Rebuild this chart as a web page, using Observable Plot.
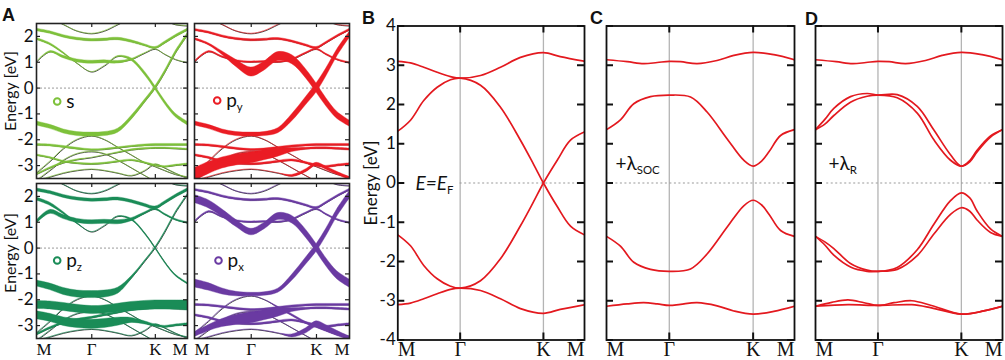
<!DOCTYPE html>
<html><head><meta charset="utf-8">
<script src="https://cdn.jsdelivr.net/npm/d3@7"></script>
<script src="https://cdn.jsdelivr.net/npm/@observablehq/plot@0.6"></script>
<style>
html,body{margin:0;padding:0;background:#fff;}
#fig{position:relative;width:1005px;height:360px;overflow:hidden;}
.panel{position:absolute;}
.letter{position:absolute;font:bold 18px "Liberation Sans",Arial,sans-serif;line-height:18px;color:#111;}
</style></head><body><div id="fig"></div>
<script>
// ---------- shared labels / ticks ----------
const pathLabels = ["M", "Γ", "K", "M"];
const kTicksA = [0, 0.366, 0.787, 1];
const kTicksBCD = [0, 0.334, 0.78, 1];
const yTicksA = [-3, -2, -1, 0, 1, 2];
const yTicksBCD = [-4, -3, -2, -1, 0, 1, 2, 3, 4];
const orbitalNames = ["s", "p_y", "p_z", "p_x"];

// ---------- panel A: DFT bands (energy at each k of the grid) ----------
const kGridA = [0, 0.09, 0.18, 0.27, 0.366, 0.45, 0.54, 0.63, 0.72, 0.787, 0.85, 0.92, 1];
const bandU1 = [1.9, 1.7, 1.35, 0.95, 0.62, 0.85, 1.22, 1.1, 0.55, 0, -0.55, -1.05, -1.37];
const bandU2 = [1.0, 1.4, 1.2, 1.05, 1.0, 1.02, 1.0, 1.1, 1.35, 1.5, 1.3, 1.1, 0.97];
const bandU3 = [2.25, 2.15, 2.0, 1.9, 1.85, 1.87, 1.9, 1.8, 1.65, 1.55, 1.75, 2.0, 2.25];
const bandU4 = [2.9, 2.7, 2.45, 2.2, 2.1, 2.2, 2.45, 2.7, 2.8, 2.75, 2.6, 2.45, 2.4];
const bandU5 = [-1.37, -1.5, -1.68, -1.78, -1.8, -1.78, -1.65, -1.15, -0.5, 0, 0.6, 1.35, 2.05];
const bandL1 = [-3.3, -2.85, -2.35, -2.0, -1.86, -2.0, -2.3, -2.6, -2.9, -3.05, -3.2, -3.35, -3.45];
const bandL2 = [-2.2, -2.22, -2.28, -2.35, -2.4, -2.38, -2.32, -2.26, -2.22, -2.2, -2.2, -2.2, -2.2];
const bandL3 = [-3.35, -3.1, -2.9, -2.78, -2.7, -2.6, -2.5, -2.4, -2.35, -2.33, -2.33, -2.35, -2.38];
const bandL4 = [-2.6, -2.7, -2.85, -2.92, -2.95, -2.92, -2.85, -2.8, -2.9, -3.0, -3.05, -3.0, -2.95];
const bandL5 = [-3.6, -3.2, -2.8, -2.55, -2.47, -2.55, -2.8, -3.1, -3.4, -3.6, -3.6, -3.6, -3.6];
const bandL6 = [-3.6, -3.45, -3.3, -3.2, -3.15, -3.2, -3.3, -3.4, -3.2, -2.95, -3.1, -3.3, -3.5];
const bandsA = [bandU1, bandU2, bandU3, bandU4, bandU5, bandL1, bandL2, bandL3, bandL4, bandL5, bandL6];

// orbital weights (fat-band thickness) per band, same order as bandsA
const weightS = [
  [2,2,1.5,0.5,0,0,1,2.5,3.5,3.5,3.5,3.5,3.5],
  [0,1.5,2.5,3,3,3,2.5,1.5,0.5,0,0,0,0],
  [2.5,2.5,2.5,2.5,2.5,2.5,2.5,2.5,2,2,2.5,2.5,2.5],
  [0,0,0,0,0,0,0,0,0,0,0,0,0],
  [4,4,4,4,4,4,4,4,3.5,3.5,3.5,3.5,3.5],
  [0,0,0,0,0,0,0,0,0,0,0,0,0],
  [2,2,2,2,1.5,1.5,1.5,1.5,2,2,2,2,2],
  [1.5,1.5,1.5,1,0,0,1,1.5,1.5,1.5,1.5,1.5,1.5],
  [1.5,1.5,1.5,1.5,1.5,1.5,1.5,1.5,1.5,1.5,1.5,1.5,1.5],
  [0,0,0,0,0,0,0,0,0,0,0,0,0],
  [0,0,0,0,0,0,0,0,0,0,0,0,0]
];
const weightPy = [
  [2,2,3.5,7,9,9,9,9,9,9,8,7,6],
  [1.5,1.5,1.5,1.5,1.5,1.5,1.5,1.5,1.5,1.5,1.5,1.5,1.5],
  [2,2,2,2,2,2,2,2,2,2,2,2,2],
  [0,0,0,0,0,0,0,0,0,0,0,0,0],
  [4,4,4,4,4,4,5,7,8,9,8,7,6],
  [0,0,0,0,0,0,0,0,0,0,0,0,0],
  [2,2,2,2,2,2,2,2,2,2,2,2,2],
  [13,12,11,11,11,10,8,4,2,2,2,2,2],
  [2,2,2,2,2,2,2,2,2,2,2,2,2],
  [0,0,0,0,0,0,0,0,0,0,0,0,0],
  [0,0,0,0,0,0,0,2,3,3,3,3,3]
];
const weightPz = [
  [3,3,2,1,0,0,0.5,1.5,1.5,1.5,1.5,1.5,1.5],
  [3,4,4,4,4,4,4,3,2,1.5,1.5,1.5,1.5],
  [3,3,3,3,3,3,3,3,3,3,3,3,3],
  [0,0,0,0,0,0,0,0,0,0,0,0,0],
  [6,6.5,7,7,7,7,6,3,1.5,1.5,1.5,1.5,1.5],
  [0,0,0,0,0,0,0,0,0,0,0,0,0],
  [8,8,8,8,8,8,8.5,9,9,9,9,9,9],
  [2,2,2,2,2,2,2,2,2,2,2,2,2],
  [8,8,8.5,9,9,9,8,5,3,2,2,2,2],
  [0,0,0,0,0,0,0,0,0,0,0,0,0],
  [0,0,0,0,0,0,0,0,0,0,0,0,0]
];
const weightPx = [
  [8,8,7.5,7,6.5,6.5,7,7.5,8,8,8,8,8],
  [1.5,1.5,1.5,1.5,1.5,1.5,1.5,1.5,1.5,1.5,1.5,1.5,1.5],
  [2,2,2,2,2,2,2,2,2,2,2,2,2],
  [0,0,0,0,0,0,0,0,0,0,0,0,0],
  [8,7.5,6,4.5,3.5,3.5,4,6,7,7.5,7.5,7.5,7.5],
  [0,0,0,0,0,0,1.5,2,2,2,2,2,2],
  [2,2,2,2,2,2,2,2,2,2,2,2,2],
  [5,6,8,10,11,10,8,4,2,2,2,2,2],
  [2,2,2,2,2,2,2,2,2,2,2,2,2],
  [0,0,0,0,0,0,0,0,0,0,0,0,0],
  [0,0,0,0,0,0,0,3,5,6,6,5,4]
];

// ---------- panel B: tight-binding bands [k, E] ----------
const bandB1 = [[0,3.1],[0.068,3.06],[0.139,2.95],[0.211,2.82],[0.282,2.71],[0.334,2.67],[0.443,2.74],[0.55,2.95],[0.657,3.2],[0.78,3.32],[0.87,3.22],[1,3.1]];
const bandB2 = [[0,1.32],[0.068,1.6],[0.139,2.1],[0.211,2.44],[0.282,2.63],[0.334,2.67],[0.443,2.49],[0.55,1.93],[0.657,1.09],[0.728,0.47],[0.78,0],[0.854,-0.6],[0.925,-1.1],[1,-1.32]];
const bandB3 = [[0,-1.32],[0.068,-1.6],[0.139,-2.1],[0.211,-2.44],[0.282,-2.63],[0.334,-2.68],[0.443,-2.49],[0.55,-1.93],[0.657,-1.09],[0.728,-0.47],[0.78,0],[0.854,0.58],[0.925,1.09],[1,1.3]];
const bandB4 = [[0,-3.1],[0.068,-3.06],[0.139,-2.95],[0.211,-2.82],[0.282,-2.71],[0.334,-2.68],[0.443,-2.74],[0.55,-2.95],[0.657,-3.2],[0.78,-3.32],[0.87,-3.22],[1,-3.1]];

// ---------- panel C: + SOC ----------
const bandC1 = [[0,3.14],[0.11,3.09],[0.198,3.04],[0.27,3.07],[0.334,3.1],[0.394,3.09],[0.482,3.04],[0.588,3.12],[0.677,3.25],[0.78,3.33],[0.89,3.27],[1,3.14]];
const bandC2 = [[0,1.36],[0.074,1.61],[0.145,2.02],[0.234,2.2],[0.334,2.24],[0.447,2.19],[0.535,1.81],[0.641,1.13],[0.73,0.58],[0.78,0.43],[0.825,0.56],[0.865,0.8],[0.926,1.21],[1,1.36]];
const bandC3 = [[0,-1.36],[0.074,-1.61],[0.145,-2.02],[0.234,-2.2],[0.334,-2.25],[0.447,-2.19],[0.535,-1.81],[0.641,-1.13],[0.73,-0.58],[0.78,-0.44],[0.825,-0.56],[0.865,-0.8],[0.926,-1.21],[1,-1.36]];
const bandC4 = [[0,-3.14],[0.11,-3.08],[0.198,-3.05],[0.27,-3.08],[0.334,-3.12],[0.394,-3.09],[0.482,-3.05],[0.588,-3.13],[0.677,-3.26],[0.78,-3.34],[0.89,-3.27],[1,-3.14]];

// ---------- panel D: + Rashba ----------
const bandD1 = [[0,3.14],[0.11,3.09],[0.198,3.04],[0.27,3.07],[0.334,3.1],[0.394,3.09],[0.482,3.04],[0.588,3.12],[0.677,3.25],[0.78,3.33],[0.89,3.27],[1,3.14]];
const bandD2a = [[0,1.36],[0.05,1.62],[0.098,1.9],[0.187,2.2],[0.276,2.28],[0.334,2.24],[0.437,2.25],[0.544,1.95],[0.633,1.35],[0.722,0.72],[0.78,0.43],[0.825,0.57],[0.865,0.84],[0.936,1.2],[1,1.36]];
const bandD2b = [[0,1.36],[0.05,1.5],[0.098,1.72],[0.187,2.06],[0.276,2.21],[0.334,2.24],[0.437,2.17],[0.544,1.78],[0.633,1.1],[0.722,0.58],[0.78,0.43],[0.825,0.54],[0.865,0.8],[0.936,1.17],[1,1.36]];
const bandD3a = [[0,-1.36],[0.05,-1.5],[0.098,-1.67],[0.187,-2.05],[0.276,-2.22],[0.334,-2.25],[0.437,-2.15],[0.544,-1.7],[0.633,-1.05],[0.722,-0.45],[0.78,-0.25],[0.825,-0.38],[0.865,-0.72],[0.936,-1.17],[1,-1.36]];
const bandD3b = [[0,-1.36],[0.05,-1.58],[0.098,-1.84],[0.187,-2.14],[0.276,-2.25],[0.334,-2.25],[0.437,-2.2],[0.544,-1.85],[0.633,-1.3],[0.722,-0.8],[0.78,-0.63],[0.825,-0.72],[0.865,-0.95],[0.936,-1.26],[1,-1.36]];
const bandD4a = [[0,-3.14],[0.087,-3.04],[0.174,-2.98],[0.26,-3.05],[0.334,-3.12],[0.42,-3.05],[0.515,-3.0],[0.62,-3.12],[0.78,-3.34],[0.9,-3.26],[1,-3.14]];
const bandD4b = [[0,-3.14],[0.174,-3.1],[0.334,-3.12],[0.515,-3.1],[0.62,-3.18],[0.78,-3.34],[0.9,-3.26],[1,-3.14]];

// ---------- rendering ----------
const fig = document.getElementById("fig");
const SVGNS = "http://www.w3.org/2000/svg";
const FONT = "Lato, 'Open Sans', sans-serif";
const SERIF = "'Liberation Serif', 'DejaVu Serif', serif";

function subscripts(svg) {
  svg.querySelectorAll("text").forEach(t => {
    const s = t.textContent;
    const i = s.indexOf("_");
    if (i < 0) return;
    t.textContent = s.slice(0, i);
    const ts = document.createElementNS(SVGNS, "tspan");
    ts.setAttribute("font-size", "0.6em");
    ts.setAttribute("dy", "0.35em");
    ts.setAttribute("font-style", "normal");
    ts.textContent = s.slice(i + 1);
    t.appendChild(ts);
  });
}
function place(el, left, top, w, h) {
  const d = document.createElement("div");
  d.className = "panel";
  Object.assign(d.style, {left: left + "px", top: top + "px", width: w + "px", height: h + "px"});
  subscripts(el);
  d.appendChild(el);
  fig.appendChild(d);
}
function xLabelMarks(kTicks, size, dy) {
  const rows = pathLabels.map((name, i) => ({name, k: kTicks[i], i}));
  const base = {x: "k", text: "name", frameAnchor: "bottom", lineAnchor: "top", dy, fontFamily: SERIF, fontSize: size, fill: "#111"};
  return [
    Plot.text(rows.filter(d => d.i === 0), {...base, textAnchor: "start"}),
    Plot.text(rows.filter(d => d.i === 1 || d.i === 2), {...base, textAnchor: "middle"}),
    Plot.text(rows.filter(d => d.i === 3), {...base, textAnchor: "end"})
  ];
}

function fatPanel(o) {
  const fw = o.width - o.ml - o.mr, fh = o.height - o.mt - o.mb;
  const pxPerE = fh / 6;
  const lineRows = bandsA.flatMap((es, b) => es.map((e, i) => ({band: b, k: kGridA[i], e})));
  const fatRows = bandsA.flatMap((es, b) => es.map((e, i) => ({band: b, k: kGridA[i], e, w: o.weights[b][i]})));
  const marks = [
    Plot.ruleY([0], {stroke: "#999", strokeDasharray: "2,2", strokeWidth: 1}),
    Plot.line(lineRows, {x: "k", y: "e", z: "band", stroke: "#333", strokeWidth: 0.9, curve: "catmull-rom", clip: true}),
    Plot.areaY(fatRows, {x: "k", y1: d => d.e - d.w / 2 / pxPerE, y2: d => d.e + d.w / 2 / pxPerE, z: "band", fill: o.color, stroke: o.color, strokeWidth: 0.4, curve: "catmull-rom", clip: true}),
    Plot.tickY(yTicksA, {y: d => d, insetRight: fw - 4, stroke: "#222", strokeWidth: 1.2}),
    Plot.tickY(yTicksA, {y: d => d, insetLeft: fw - 4, stroke: "#222", strokeWidth: 1.2}),
    Plot.tickX(kTicksA.slice(1, 3), {x: d => d, insetBottom: fh - 4, stroke: "#222", strokeWidth: 1.2}),
    Plot.tickX(kTicksA.slice(1, 3), {x: d => d, insetTop: fh - 4, stroke: "#222", strokeWidth: 1.2}),
    Plot.dot([0], {frameAnchor: "top-left", dx: o.legDx, dy: o.legDy, r: 3.3, stroke: o.color, strokeWidth: 2, fill: "white"}),
    Plot.text([o.name], {text: d => d, frameAnchor: "top-left", dx: o.legDx + 9, dy: o.legDy, textAnchor: "start", lineAnchor: "middle", fontSize: 19, fill: "#111"}),
    Plot.frame({stroke: "#222", strokeWidth: 1.6})
  ];
  if (o.showY) {
    marks.push(Plot.axisY(yTicksA, {tickSize: 0, tickPadding: 3, tickFormat: d => String(d), fontSize: 17, label: null}));
    marks.push(Plot.text(["Energy [eV]"], {text: d => d, frameAnchor: "left", textAnchor: "middle", lineAnchor: "middle", dx: -25.5, dy: o.labelDy, rotate: -90, fontSize: 16, fill: "#111"}));
  }
  if (o.showX) marks.push(...xLabelMarks(kTicksA, 17, 4));
  const svg = Plot.plot({
    width: o.width, height: o.height,
    marginLeft: o.ml, marginRight: o.mr, marginTop: o.mt, marginBottom: o.mb,
    x: {domain: [0, 1], axis: null},
    y: {domain: [-3.5, 2.5], axis: null},
    style: {background: "transparent", overflow: "visible", fontFamily: FONT, fontSize: "17px", color: "#111"},
    marks
  });
  place(svg, o.left, o.top, o.width, o.height);
}

const fatColors = ["#7dc13a", "#ea1c24", "#1a8c57", "#6a3aa2"];
const fatWeights = [weightS, weightPy, weightPz, weightPx];
fatPanel({left: 0, top: 0, width: 190, height: 180, ml: 36, mr: 3, mt: 23, mb: 2, weights: fatWeights[0], color: fatColors[0], name: orbitalNames[0], legDx: 20.7, legDy: 78, showY: true, labelDy: -10, showX: false});
fatPanel({left: 190, top: 0, width: 160, height: 180, ml: 4, mr: 1, mt: 23, mb: 2, weights: fatWeights[1], color: fatColors[1], name: orbitalNames[1], legDx: 22.7, legDy: 77, showY: false, showX: false});
fatPanel({left: 0, top: 180, width: 190, height: 180, ml: 36, mr: 3, mt: 3, mb: 22, weights: fatWeights[2], color: fatColors[2], name: orbitalNames[2], legDx: 20.7, legDy: 77, showY: true, labelDy: -8, showX: true});
fatPanel({left: 190, top: 180, width: 160, height: 180, ml: 4, mr: 1, mt: 3, mb: 22, weights: fatWeights[3], color: fatColors[3], name: orbitalNames[3], legDx: 24, legDy: 77, showY: false, showX: true});

function tbPanel(o) {
  const mt = 25.5, mb = 20.5;
  const fw = o.width - o.ml - o.mr, fh = o.height - mt - mb;
  const rows = o.bands.flatMap((pts, b) => pts.map(([k, e]) => ({band: b, k, e})));
  const marks = [
    Plot.ruleX(kTicksBCD.slice(1, 3), {x: d => d, stroke: "#b4b4b4", strokeWidth: 1.3}),
    Plot.ruleY([0], {x1: o.zeroFrom, x2: 1, stroke: "#999", strokeDasharray: "2,2.5", strokeWidth: 1.1}),
    Plot.line(rows, {x: "k", y: "e", z: "band", stroke: "#e3191f", strokeWidth: 1.7, curve: "catmull-rom", clip: true}),
    Plot.tickY(yTicksBCD, {y: d => d, insetRight: fw - 7, stroke: "#111", strokeWidth: 2}),
    Plot.tickY(yTicksBCD, {y: d => d, insetLeft: fw - 7, stroke: "#111", strokeWidth: 2}),
    Plot.tickX(kTicksBCD.slice(1, 3), {x: d => d, insetBottom: fh - 7, stroke: "#111", strokeWidth: 2}),
    Plot.tickX(kTicksBCD.slice(1, 3), {x: d => d, insetTop: fh - 7, stroke: "#111", strokeWidth: 2}),
    Plot.text([0], {y: d => d, text: () => o.ann, frameAnchor: "left", dx: o.annDx, dy: o.annDy, textAnchor: "start", lineAnchor: "middle", fontStyle: o.italic ? "italic" : "normal", fontSize: 19, fill: "#111"}),
    Plot.frame({stroke: "#111", strokeWidth: 1.8}),
    ...xLabelMarks(kTicksBCD, 20, 2)
  ];
  if (o.showY) {
    marks.push(Plot.axisY(yTicksBCD, {tickSize: 0, tickPadding: 2, tickFormat: d => String(d), fontSize: 17, label: null}));
    marks.push(Plot.text(["Energy [eV]"], {text: d => d, frameAnchor: "left", textAnchor: "middle", lineAnchor: "middle", dx: -26, rotate: -90, fontSize: 17, fill: "#111"}));
  }
  const svg = Plot.plot({
    width: o.width, height: o.height,
    marginLeft: o.ml, marginRight: o.mr, marginTop: mt, marginBottom: mb,
    x: {domain: [0, 1], axis: null},
    y: {domain: [-4, 4], axis: null},
    style: {background: "transparent", overflow: "visible", fontFamily: FONT, fontSize: "17px", color: "#111"},
    marks
  });
  place(svg, o.left, 0, o.width, o.height);
}

tbPanel({left: 350, width: 240, height: 360, ml: 47.3, mr: 6, bands: [bandB1, bandB2, bandB3, bandB4], zeroFrom: kTicksBCD[1], ann: "E=E_F", annDx: 17.7, annDy: 1, italic: true, showY: true});
tbPanel({left: 590, width: 210, height: 360, ml: 16, mr: 6, bands: [bandC1, bandC2, bandC3, bandC4], zeroFrom: 0.05, ann: "+λ_SOC", annDx: 9, annDy: -19, italic: false, showY: false});
tbPanel({left: 800, width: 205, height: 360, ml: 15, mr: 3, bands: [bandD1, bandD2a, bandD2b, bandD3a, bandD3b, bandD4a, bandD4b], zeroFrom: 0.06, ann: "+λ_R", annDx: 13, annDy: -19, italic: false, showY: false});

// panel letters
[["A", 2, 6], ["B", 362, 9], ["C", 590, 9], ["D", 805, 10]].forEach(([t, l, tp]) => {
  const d = document.createElement("div");
  d.className = "letter";
  d.textContent = t;
  d.style.left = l + "px"; d.style.top = tp + "px";
  fig.appendChild(d);
});
</script>
</body></html>
